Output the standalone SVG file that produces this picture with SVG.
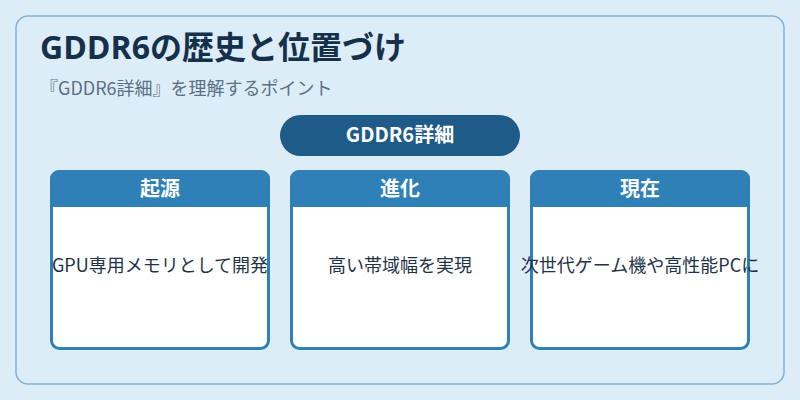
<svg xmlns="http://www.w3.org/2000/svg" width="800" height="400" viewBox="0 0 800 400">
<style>
.jp{font-family:"Noto Sans CJK JP","Noto Sans",sans-serif}
.ttl{font-family:"Open Sans","Noto Sans CJK JP",sans-serif}
.card{fill:#ffffff;stroke:#2e80b6;stroke-width:3}
.head{fill:#2e80b6}
.htxt{fill:#ffffff;font-size:20px;font-weight:700;text-anchor:middle}
.btxt{fill:#1f3347;font-size:18px;text-anchor:middle}
</style>
<rect width="800" height="400" fill="#ddedf8"/>
<rect x="16" y="16" width="768" height="368" rx="12" fill="#ddedf8" stroke="#7fb3d6" stroke-width="1.5"/>
<text class="ttl" x="40" y="59" font-size="32" font-weight="700" fill="#15304a">GDDR6の歴史と位置づけ</text>
<text class="jp" x="40" y="95" font-size="18" fill="#5a7085">『GDDR6詳細』を理解するポイント</text>
<g id="root">
<rect x="280" y="115" width="240" height="41" rx="20.5" fill="#1e5b88"/>
<text class="jp" x="400" y="142" font-size="20" font-weight="700" fill="#ffffff" text-anchor="middle">GDDR6詳細</text>
</g>
<g id="connectors"></g>
<g id="card-origin">
<rect class="card" x="51.5" y="171.5" width="217" height="177" rx="8"/>
<path class="head" d="M50 207 V179 A9 9 0 0 1 59 170 H261 A9 9 0 0 1 270 179 V207 Z"/>
<text class="jp htxt" x="160" y="196">起源</text>
<text class="jp btxt" x="160" y="272">GPU専用メモリとして開発</text>
</g>
<g id="card-evolution">
<rect class="card" x="291.5" y="171.5" width="217" height="177" rx="8"/>
<path class="head" d="M290 207 V179 A9 9 0 0 1 299 170 H501 A9 9 0 0 1 510 179 V207 Z"/>
<text class="jp htxt" x="400" y="196">進化</text>
<text class="jp btxt" x="400" y="272">高い帯域幅を実現</text>
</g>
<g id="card-present">
<rect class="card" x="531.5" y="171.5" width="217" height="177" rx="8"/>
<path class="head" d="M530 207 V179 A9 9 0 0 1 539 170 H741 A9 9 0 0 1 750 179 V207 Z"/>
<text class="jp htxt" x="640" y="196">現在</text>
<text class="jp btxt" x="640" y="272">次世代ゲーム機や高性能PCに</text>
</g>
</svg>
